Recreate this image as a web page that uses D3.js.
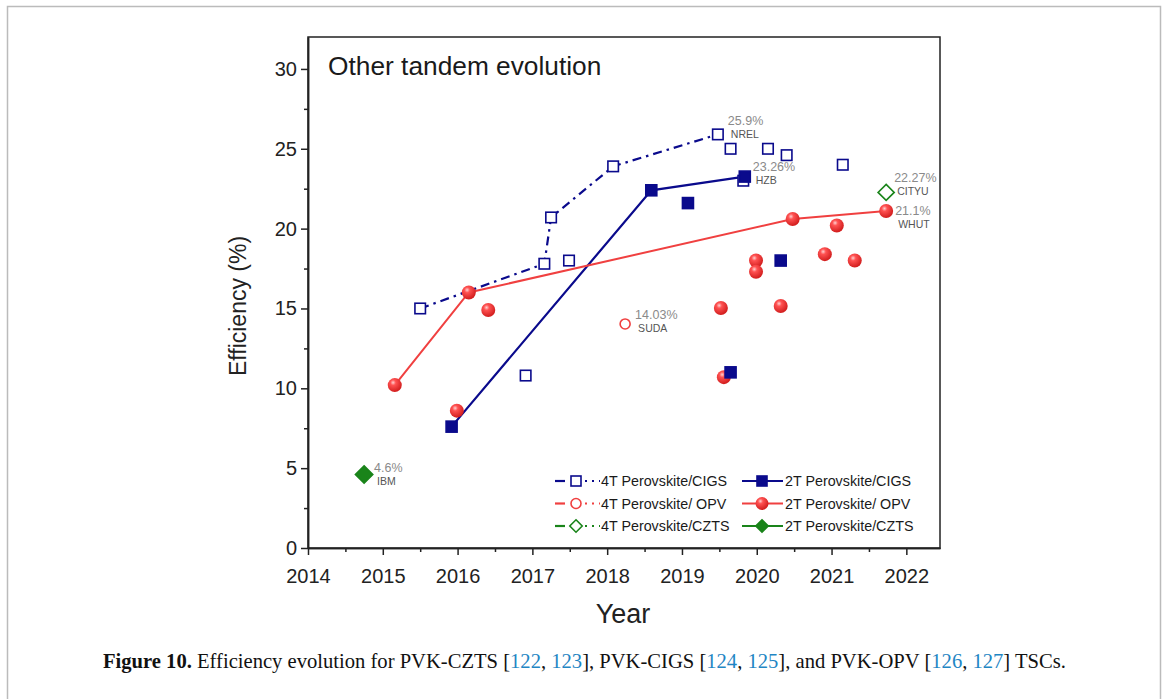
<!DOCTYPE html>
<html>
<head>
<meta charset="utf-8">
<script src="https://cdn.jsdelivr.net/npm/d3@7"></script>
<style>
  html, body { margin: 0; padding: 0; background: #fff; }
  svg { display: block; }
</style>
</head>
<body>
<svg id="chart" width="1167" height="699"></svg>
<script>
// data: [year, efficiency %]
const cigs4T = [[2015.50, 15.0], [2016.91, 10.8], [2017.16, 17.8], [2017.25, 20.7], [2017.49, 18.0],
  [2018.08, 23.9], [2019.48, 25.9], [2019.65, 25.0], [2019.82, 23.0], [2020.15, 25.0],
  [2020.40, 24.6], [2021.15, 24.0]];
const cigs4TRecord = [[2015.50, 15.0], [2017.16, 17.8], [2017.25, 20.7], [2018.08, 23.9], [2019.48, 25.9]];

const cigs2T = [[2015.92, 7.6], [2018.59, 22.4], [2019.08, 21.6], [2019.65, 11.0], [2019.84, 23.26], [2020.32, 18.0]];
const cigs2TRecord = [[2015.92, 7.6], [2018.59, 22.4], [2019.84, 23.26]];

const opv4T = [[2018.24, 14.03]];

const opv2T = [[2015.16, 10.2], [2015.99, 8.6], [2016.15, 16.0], [2016.41, 14.9], [2019.52, 15.03],
  [2019.56, 10.7], [2019.99, 18.0], [2019.99, 17.3], [2020.32, 15.15], [2020.48, 20.6],
  [2020.91, 18.4], [2021.07, 20.2], [2021.31, 18.0], [2021.73, 21.1]];
const opv2TRecord = [[2015.16, 10.2], [2016.15, 16.0], [2020.48, 20.6], [2021.73, 21.1]];

const czts4T = [[2021.73, 22.27]];
const czts2T = [[2014.75, 4.6]];

// record labels: [year, eff, percent text, lab, dx, dy]
const records = [
  [2019.48, 25.9, "25.9%", "NREL", 10, -9],
  [2019.84, 23.26, "23.26%", "HZB", 8, -6],
  [2021.73, 22.27, "22.27%", "CITYU", 8, -10],
  [2021.73, 21.1, "21.1%", "WHUT", 9, 4],
  [2018.24, 14.03, "14.03%", "SUDA", 10, -5],
  [2014.75, 4.6, "4.6%", "IBM", 10, -3]
];

const yearTicks = d3.range(2014, 2023);
const effTicks = d3.range(0, 31, 5);

const legendItems = [
  { label: "4T Perovskite/CIGS", color: "#0a0a8c", shape: "square", fill: false },
  { label: "2T Perovskite/CIGS", color: "#0a0a8c", shape: "square", fill: true },
  { label: "4T Perovskite/ OPV", color: "#f04040", shape: "circle", fill: false },
  { label: "2T Perovskite/ OPV", color: "#f04040", shape: "sphere", fill: true },
  { label: "4T Perovskite/CZTS", color: "#1a841a", shape: "diamond", fill: false },
  { label: "2T Perovskite/CZTS", color: "#1a841a", shape: "diamond", fill: true }
];

const svg = d3.select("#chart");
const BLUE = "#0a0a8c", RED = "#f04040", GREEN = "#1a841a";
const FONT = "'Liberation Sans', Arial, sans-serif";

// page frame
svg.append("path").attr("d", "M7.5,699 V6.5 H1160.5 V699")
  .attr("fill", "none").attr("stroke", "#bbb").attr("stroke-width", 1.5);

const defs = svg.append("defs");
const grad = defs.append("radialGradient").attr("id", "ball")
  .attr("cx", "38%").attr("cy", "32%").attr("r", "65%");
grad.append("stop").attr("offset", "0%").attr("stop-color", "#ffd0d0");
grad.append("stop").attr("offset", "30%").attr("stop-color", "#ff5252");
grad.append("stop").attr("offset", "100%").attr("stop-color", "#d42020");

const x = d3.scaleLinear().domain([2014, 2022.45]).range([308, 940]);
const y = d3.scaleLinear().domain([0, 32]).range([548, 37]);

// plot box
svg.append("rect").attr("x", 308).attr("y", 37).attr("width", 632).attr("height", 511)
  .attr("fill", "none").attr("stroke", "#222").attr("stroke-width", 1.5);

// axes
const xAxis = svg.append("g").attr("transform", "translate(0,548)")
  .call(d3.axisBottom(x).tickValues(yearTicks).tickFormat(d3.format("d")).tickSize(7).tickSizeOuter(0));
const xMinor = svg.append("g").attr("transform", "translate(0,548)")
  .call(d3.axisBottom(x).tickValues(yearTicks.slice(0, -1).map(d => d + 0.5)).tickFormat("").tickSize(4).tickSizeOuter(0));
const yAxis = svg.append("g").attr("transform", "translate(308,0)")
  .call(d3.axisLeft(y).tickValues(effTicks).tickSize(7).tickSizeOuter(0));
const yMinor = svg.append("g").attr("transform", "translate(308,0)")
  .call(d3.axisLeft(y).tickValues(effTicks.slice(0, -1).map(d => d + 2.5)).tickFormat("").tickSize(4).tickSizeOuter(0));

[xAxis, xMinor, yAxis, yMinor].forEach(g => {
  g.select(".domain").attr("stroke", "#222").attr("stroke-width", 1.5);
  g.selectAll(".tick line").attr("stroke", "#222").attr("stroke-width", 1.5);
  g.selectAll("text").attr("font-family", FONT).attr("font-size", 20).attr("fill", "#222");
});
xAxis.selectAll("text").attr("dy", "1.25em");
yAxis.selectAll("text").attr("dx", "-0.05em");

svg.append("text").attr("x", 623).attr("y", 623).attr("text-anchor", "middle")
  .attr("font-family", FONT).attr("font-size", 27).attr("fill", "#222").text("Year");
svg.append("text").attr("transform", "translate(246,306) rotate(-90)").attr("text-anchor", "middle")
  .attr("font-family", FONT).attr("font-size", 23).attr("fill", "#222").text("Efficiency (%)");
svg.append("text").attr("x", 328).attr("y", 75)
  .attr("font-family", FONT).attr("font-size", 26.3).attr("fill", "#1a1a1a").text("Other tandem evolution");

// record lines
const line = d3.line().x(d => x(d[0])).y(d => y(d[1]));
svg.append("path").datum(cigs4TRecord).attr("d", line).attr("fill", "none")
  .attr("stroke", BLUE).attr("stroke-width", 2.2).attr("stroke-dasharray", "9,5,2.5,5");
svg.append("path").datum(cigs2TRecord).attr("d", line).attr("fill", "none")
  .attr("stroke", BLUE).attr("stroke-width", 2.2);
svg.append("path").datum(opv2TRecord).attr("d", line).attr("fill", "none")
  .attr("stroke", RED).attr("stroke-width", 2);

// marker drawing
function marker(g, shape, color, fill, s) {
  if (shape === "square") {
    g.append("rect").attr("x", -s / 2).attr("y", -s / 2).attr("width", s).attr("height", s)
      .attr("fill", fill ? color : "#fff").attr("stroke", color).attr("stroke-width", 1.6);
  } else if (shape === "circle") {
    g.append("circle").attr("r", s / 2).attr("fill", "#fff").attr("stroke", color).attr("stroke-width", 1.6);
  } else if (shape === "sphere") {
    g.append("circle").attr("r", s / 2 + 0.5).attr("fill", "url(#ball)");
  } else if (shape === "diamond") {
    const h = s * 0.62;
    g.append("path").attr("d", `M0,${-h} L${h},0 L0,${h} L${-h},0 Z`)
      .attr("fill", fill ? color : "#fff").attr("stroke", color).attr("stroke-width", 1.6);
  }
}

function plotSeries(data, shape, color, fill, s) {
  svg.append("g").selectAll("g").data(data).join("g")
    .attr("transform", d => `translate(${x(d[0])},${y(d[1])})`)
    .each(function () { marker(d3.select(this), shape, color, fill, s); });
}

plotSeries(cigs4T, "square", BLUE, false, 10.5);
plotSeries(opv2T, "sphere", RED, true, 13);
plotSeries(cigs2T, "square", BLUE, true, 11);
plotSeries(opv4T, "circle", RED, false, 10);
plotSeries(czts4T, "diamond", GREEN, false, 13);
plotSeries(czts2T, "diamond", GREEN, true, 14);

// record labels
const lab = svg.append("g").selectAll("g").data(records).join("g")
  .attr("transform", d => `translate(${x(d[0]) + d[4]},${y(d[1]) + d[5]})`);
lab.append("text").attr("font-family", FONT).attr("font-size", 12.5).attr("fill", "#8a8a8a")
  .text(d => d[2]);
lab.append("text").attr("x", 3).attr("y", 13).attr("font-family", FONT).attr("font-size", 10.5)
  .attr("fill", "#555").text(d => d[3]);

// legend
const leg = svg.append("g").selectAll("g").data(legendItems).join("g")
  .attr("transform", (d, i) => `translate(${i % 2 ? 742 : 555},${481 + Math.floor(i / 2) * 22.5})`);
leg.each(function (d) {
  const g = d3.select(this);
  if (d.fill) {
    g.append("line").attr("x1", 0).attr("x2", 41).attr("stroke", d.color).attr("stroke-width", 2.2);
  } else {
    g.append("line").attr("x1", 0).attr("x2", 10).attr("stroke", d.color).attr("stroke-width", 2.2);
    g.append("line").attr("x1", 30).attr("x2", 45).attr("stroke", d.color).attr("stroke-width", 2.2)
      .attr("stroke-dasharray", "2,5");
  }
  const m = g.append("g").attr("transform", `translate(${d.fill ? 20 : 21},0)`);
  marker(m, d.shape, d.color, d.fill, d.shape === "sphere" ? 12 : 10);
  g.append("text").attr("x", d.fill ? 43 : 46).attr("y", 5).attr("font-family", FONT)
    .attr("font-size", 14.3).attr("fill", "#1a1a1a").text(d.label);
});

// caption
const cap = svg.append("text").attr("x", 103).attr("y", 668)
  .attr("font-family", "'Liberation Serif', 'DejaVu Serif', serif").attr("font-size", 20.6).attr("fill", "#111");
const parts = [["Figure 10.", "b"], [" Efficiency evolution for PVK-CZTS [", ""], ["122", "c"], [", ", ""], ["123", "c"],
  ["], PVK-CIGS [", ""], ["124", "c"], [", ", ""], ["125", "c"], ["], and PVK-OPV [", ""], ["126", "c"], [", ", ""],
  ["127", "c"], ["] TSCs.", ""]];
parts.forEach(p => {
  const t = cap.append("tspan").text(p[0]);
  if (p[1] === "b") t.attr("font-weight", "bold");
  if (p[1] === "c") t.attr("fill", "#1f86c4");
});
</script>
</body>
</html>
